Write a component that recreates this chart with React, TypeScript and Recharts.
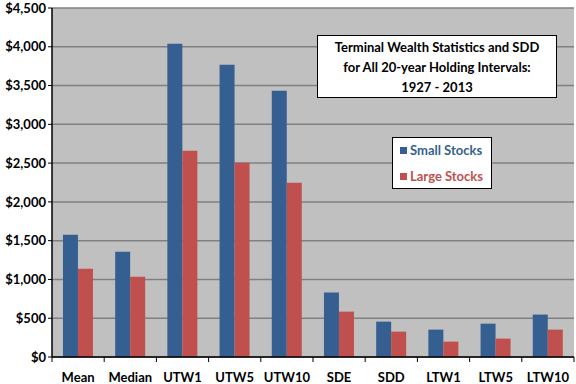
import React from "react";
import {
  BarChart,
  Bar,
  XAxis,
  YAxis,
  CartesianGrid,
} from "recharts";

const categories = ["Mean", "Median", "UTW1", "UTW5", "UTW10", "SDE", "SDD", "LTW1", "LTW5", "LTW10"];
const smallStocks = [1576, 1356, 4040, 3769, 3434, 831, 456, 353, 430, 547];
const largeStocks = [1137, 1034, 2660, 2505, 2247, 585, 327, 198, 237, 353];
const yTicks = [0, 500, 1000, 1500, 2000, 2500, 3000, 3500, 4000, 4500];
const boundaryTicks = [0, 1, 2, 3, 4, 5, 6, 7, 8, 9, 10];
const titleLines = [
  "Terminal Wealth Statistics and SDD",
  "for All 20-year Holding Intervals:",
  "1927 - 2013",
];

const BLUE = "#365F91";
const RED = "#C0504D";
const FONT = "Lato, 'Open Sans', sans-serif";

const data = categories.map((name, i) => ({
  name,
  small: smallStocks[i],
  large: largeStocks[i],
}));

const money = (v: number) => "$" + v.toLocaleString("en-US");

// legend box sits inside the plot, like the Excel original
function LegendBox() {
  const items = [
    { label: "Small Stocks", color: BLUE },
    { label: "Large Stocks", color: RED },
  ];
  return (
    <div
      style={{
        position: "absolute",
        left: 392,
        top: 137,
        width: 100,
        height: 52,
        background: "#fff",
        border: "1px solid #000",
        boxSizing: "border-box",
        paddingTop: 2,
        fontFamily: FONT,
        fontWeight: 700,
        fontSize: 13,
      }}
    >
      {items.map((it) => (
        <div
          key={it.label}
          style={{ display: "flex", alignItems: "center", height: 20, marginBottom: 6, paddingLeft: 7, color: it.color }}
        >
          <span style={{ display: "inline-block", width: 7, height: 7, background: it.color, marginRight: 3 }} />
          {it.label}
        </div>
      ))}
    </div>
  );
}

export default function App() {
  return (
    <div style={{ position: "absolute", left: 0, top: 0, width: 576, height: 384, background: "#fff" }}>
      <BarChart
        width={576}
        height={384}
        data={data}
        margin={{ top: 8, right: 2, left: 0, bottom: 0 }}
        barCategoryGap="21%"
        barGap={0}
      >
        <CartesianGrid vertical={false} fill="#C0C0C0" stroke="#808080" strokeWidth={1.5} />
        <XAxis
          xAxisId="a"
          type="number"
          dataKey={() => 0}
          domain={[0, 10]}
          ticks={boundaryTicks}
          interval={0}
          height={6}
          tickSize={5}
          tickFormatter={() => ""}
          stroke="#000"
          axisLine={{ stroke: "#000", strokeWidth: 1.5 }}
          tickLine={{ stroke: "#000" }}
        />
        <XAxis
          xAxisId="b"
          dataKey="name"
          height={21}
          axisLine={false}
          tickLine={false}
          interval={0}
          tickMargin={4}
          tick={{ fontSize: 13, fontWeight: 700, fill: "#000", fontFamily: FONT }}
        />
        <YAxis
          width={52}
          domain={[0, 4500]}
          ticks={yTicks}
          interval={0}
          tickFormatter={money}
          tickSize={4}
          tickMargin={2}
          axisLine={{ stroke: "#000", strokeWidth: 1.5 }}
          tickLine={{ stroke: "#000" }}
          tick={{ fontSize: 13, fontWeight: 700, fill: "#000", fontFamily: FONT }}
        />
        <Bar xAxisId="b" dataKey="small" name="Small Stocks" fill={BLUE} isAnimationActive={false} />
        <Bar xAxisId="b" dataKey="large" name="Large Stocks" fill={RED} isAnimationActive={false} />
      </BarChart>
      <LegendBox />
      <div
        style={{
          position: "absolute",
          left: 317,
          top: 35,
          width: 240,
          height: 63,
          boxSizing: "border-box",
          background: "#fff",
          border: "1px solid #000",
          fontFamily: FONT,
          fontWeight: 700,
          fontSize: 13,
          lineHeight: "20px",
          textAlign: "center",
          paddingTop: 1,
          color: "#000",
        }}
      >
        {titleLines.map((t) => (
          <div key={t}>{t}</div>
        ))}
      </div>
    </div>
  );
}
